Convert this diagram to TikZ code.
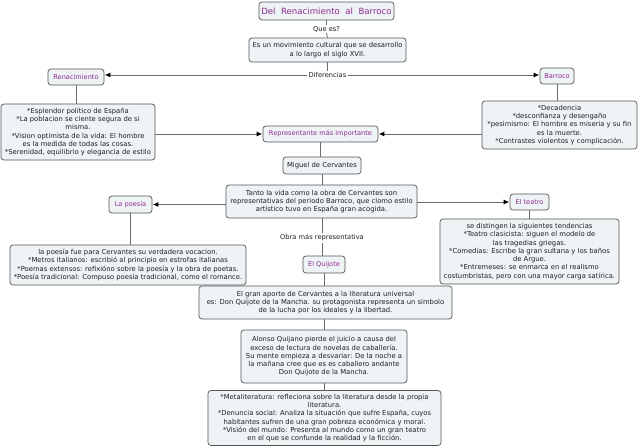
\documentclass[tikz,border=0pt]{standalone}
\usepackage{fontspec}
\setmainfont{DejaVu Sans}
\usetikzlibrary{arrows.meta}
\definecolor{boxfill}{HTML}{EEF3F5}
\definecolor{boxdraw}{HTML}{555555}
\definecolor{purp}{HTML}{8E2A8E}
\definecolor{linegray}{HTML}{6A6A6A}
\tikzset{
  base/.style={draw=boxdraw, fill=boxfill, rounded corners=3pt, align=center, inner sep=1pt, line width=0.7pt},
  txtbox/.style={base, font=\fontsize{6.8}{8.25}\selectfont, text=black!88},
  concept/.style={base, font=\fontsize{6.6}{8}\selectfont, text=purp},
  lbl/.style={fill=white, inner sep=1pt, font=\fontsize{6.7}{8}\selectfont, text=black!88},
  conn/.style={draw=linegray, line width=0.8pt},
  arr/.style={conn, -{Latex[length=5.5pt,width=5pt,black]}, shorten >=0.5pt},
}
\begin{document}
\begin{tikzpicture}[x=1pt,y=-1pt]
\useasboundingbox (0,0) rectangle (640,447);

\node[concept, minimum width=135pt, minimum height=18pt, font=\fontsize{8.6}{10}\selectfont] (title) at (326.5,11) {Del\ \ Renacimiento\ \ al\ \ Barroco};
\node[txtbox, minimum width=157pt, minimum height=24pt] (def) at (327.5,50) {Es un movimiento cultural que se desarrollo\\a lo largo el siglo XVII.};
\node[concept, minimum width=56pt, minimum height=16pt] (renac) at (76,77) {Renacimiento};
\node[concept, minimum width=34pt, minimum height=16pt] (barroco) at (557,76) {Barroco};
\node[txtbox, minimum width=154pt, minimum height=56pt] (renacbox) at (78,132) {*Esplendor político de España\\*La poblacion se ciente segura de si\\misma.\\*Vision optimista de la vida: El hombre\\es la medida de todas las cosas.\\*Serenidad, equilibrio y elegancia de estilo};
\node[txtbox, minimum width=155pt, minimum height=48pt] (barrocobox) at (559.5,125) {*Decadencia\\*desconfianza y desengaño\\*pesimismo: El hombre es miseria y su fin\\es la muerte.\\*Contrastes violentos y complicación.};
\node[concept, minimum width=115pt, minimum height=16pt] (repr) at (320.5,134) {Representante más importante};
\node[txtbox, minimum width=78pt, minimum height=17pt] (miguel) at (322,165.5) {Miguel de Cervantes};
\node[txtbox, minimum width=191pt, minimum height=33pt] (tanto) at (321.5,201.5) {Tanto la vida como la obra de Cervantes son\\representativas del periodo Barroco, que clomo estilo\\artístico tuvo en España gran acogida.};
\node[concept, minimum width=43pt, minimum height=17pt] (poesia) at (130.5,204.5) {La poesía};
\node[concept, minimum width=39pt, minimum height=16pt] (teatro) at (529.5,202) {El teatro};
\node[txtbox, minimum width=236pt, minimum height=40pt] (poesiabox) at (128,265) {la poesía fue para Cervantes su verdadera vocacion.\\*Metros italianos: escribió al principio en estrofas italianas\\*Poemas extensos: refixióno sobre la poesía y la obra de poetas.\\*Poesía tradicional: Compuso poesía tradicional, como el romance.};
\node[txtbox, minimum width=179pt, minimum height=65pt] (teatrobox) at (529.5,251.5) {se distingen la siguientes tendencias\\*Teatro clasicista: siguen el modelo de\\las tragedias griegas.\\*Comedias: Escribe la gran sultana y los baños\\de Argue.\\*Entremeses: se enmarca en el realismo\\costumbristas, pero con una mayor carga satírica.};
\node[lbl] (obra) at (322,238) {Obra más representativa};
\node[concept, minimum width=42pt, minimum height=17pt] (quijote) at (324,264.5) {El Quijote};
\node[txtbox, minimum width=253pt, minimum height=33pt] (aporte) at (325.5,302.5) {El gran aporte de Cervantes a la literatura universal\\es: Don Quijote de la Mancha. su protagonista representa un simbolo\\de la lucha por los ideales y la libertad.};
\node[txtbox, minimum width=166pt, minimum height=53pt] (alonso) at (324,356.5) {Alonso Quijano pierde el juicio a causa del\\exceso de lectura de novelas de caballería.\\Su mente empieza a desvariar: De la noche a\\la mañana cree que es es caballero andante\\Don Quijote de la Mancha.};
\node[txtbox, minimum width=233pt, minimum height=55pt] (meta) at (324.5,418) {*Metaliteratura: refleciona sobre la literatura desde la propia\\literatura.\\*Denuncia social: Analiza la situación que sufre España, cuyos\\habitantes sufren de una gran pobreza económica y moral.\\*Visión del mundo: Presenta al mundo como un gran teatro\\en el que se confunde la realidad y la ficción.};

\node[lbl] (quees) at (326.5,29) {Que es?};
\node[lbl] (dif) at (327.5,75) {Diferencias};

% connectors
\draw[conn] (title.south) -- (quees.north);
\draw[conn] (quees.south) -- (def.north);
\draw[conn] (def.south) -- (dif.north);
\draw[arr] (dif.west) -- (renac.east |- dif.west);
\draw[arr] (dif.east) -- (barroco.west |- dif.east);
\draw[conn] (renac.south) -- (renac.south |- renacbox.north);
\draw[conn] (barroco.south) -- (barroco.south |- barrocobox.north);
\draw[arr] (renacbox.east |- repr.west) -- (repr.west);
\draw[arr] (barrocobox.west |- repr.east) -- (repr.east);
\draw[conn] (repr.south) -- (repr.south |- miguel.north);
\draw[conn] (miguel.south) -- (miguel.south |- tanto.north);
\draw[arr] (tanto.west |- poesia.east) -- (poesia.east);
\draw[arr] (tanto.east |- teatro.west) -- (teatro.west);
\draw[conn] (poesia.south) -- (poesia.south |- poesiabox.north);
\draw[conn] (teatro.south) -- (teatro.south |- teatrobox.north);
\draw[conn] (tanto.south -| obra.north) -- (obra.north);
\draw[conn] (obra.south) -- (obra.south |- quijote.north);
\draw[conn] (quijote.south) -- (quijote.south |- aporte.north);
\draw[conn] (aporte.south -| alonso.north) -- (alonso.north);
\draw[conn] (alonso.south) -- (alonso.south |- meta.north);
\end{tikzpicture}
\end{document}
